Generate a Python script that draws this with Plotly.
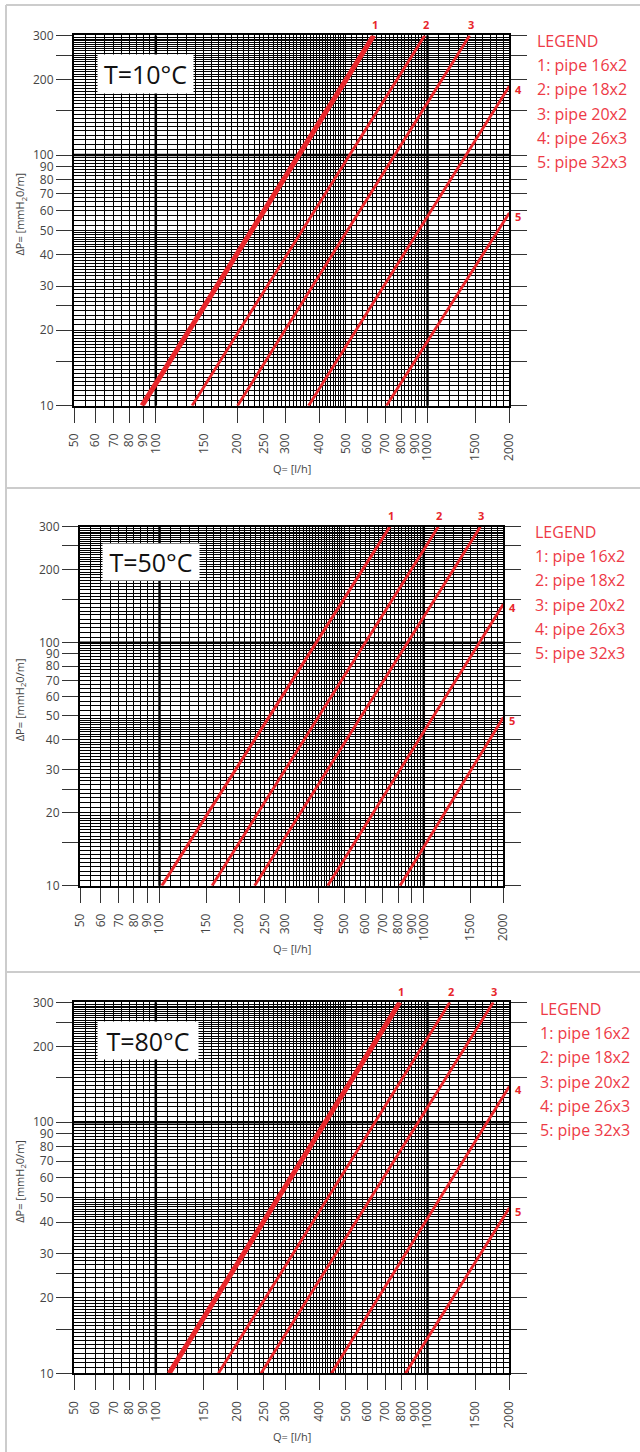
import numpy as np
import plotly.graph_objects as go

# ---------------- data ----------------
temperatures = ["T=10°C", "T=50°C", "T=80°C"]
pipe_ids = ["1", "2", "3", "4", "5"]
legend_labels = ["1: pipe 16x2", "2: pipe 18x2", "3: pipe 20x2", "4: pipe 26x3", "5: pipe 32x3"]

# flow Q [l/h] and pressure drop dP [mmH2O/m] at the two ends of each straight (log-log) line
t10_q_start = [89, 136, 200, 365, 706]
t10_dp_start = [10, 10, 10, 10, 10]
t10_q_end = [634, 977, 1429, 2000, 2000]
t10_dp_end = [300, 300, 300, 188, 58.7]

t50_q_start = [102, 158, 229, 433, 813]
t50_dp_start = [10, 10, 10, 10, 10]
t50_q_end = [744, 1135, 1638, 2000, 2000]
t50_dp_end = [300, 300, 300, 144, 49.3]

t80_q_start = [112, 170, 244, 443, 830]
t80_dp_start = [10, 10, 10, 10, 10]
t80_q_end = [791, 1208, 1746, 2000, 2000]
t80_dp_end = [300, 300, 300, 138.7, 45.5]

x_tick_vals = [50, 60, 70, 80, 90, 100, 150, 200, 250, 300, 400, 500, 600, 700, 800, 900, 1000, 1500, 2000]
x_tick_text = ["50", "60", "70", "80", "90", "100", "150", "200", "250", "300", "400", "500",
               "600", "700", "800", "900", "1000", "1500", "2000"]
y_tick_vals = [10, 15, 20, 25, 30, 40, 50, 60, 70, 80, 90, 100, 150, 200, 250, 300]
y_tick_text = ["10", "", "20", "", "30", "40", "50", "60", "70", "80", "90", "100", "", "200", "", "300"]

# ---------------- styling / layout ----------------
W, H = 640, 1452
def px(x): return x / W
def py(y): return 1 - y / H

RED = "#e8262b"
LEG_RED = "#ee3a46"
FONT = "Open Sans"

grid_x = np.concatenate([np.arange(50, 100, 5), np.arange(100, 200, 10), np.arange(200, 500, 10),
                         np.arange(500, 1000, 25), np.arange(1000, 2001, 100)]).tolist()
grid_y = np.concatenate([np.arange(10, 20, 0.5), np.arange(20, 50, 1), np.arange(50, 100, 2.5),
                         np.arange(100, 300.1, 5)]).tolist()
thick_x = [100, 1000]
thick_y = [100]

panels = [
    dict(title=temperatures[0], qs=t10_q_start, ds=t10_dp_start, qe=t10_q_end, de=t10_dp_end,
         x0=74, x1=509.3, yt=35.4, yb=405.7, box=(98, 193, 55, 93), leg=(535, 41), w1=5),
    dict(title=temperatures[1], qs=t50_q_start, ds=t50_dp_start, qe=t50_q_end, de=t50_dp_end,
         x0=80, x1=503.3, yt=526.7, yb=885.8, box=(103, 199, 544, 580), leg=(533, 532), w1=3),
    dict(title=temperatures[2], qs=t80_q_start, ds=t80_dp_start, qe=t80_q_end, de=t80_dp_end,
         x0=74, x1=509.3, yt=1002.3, yb=1373.3, box=(98, 198, 1022, 1059), leg=(538, 1009), w1=5),
]

fig = go.Figure()
layout = dict(width=W, height=H, margin=dict(l=0, r=0, t=0, b=0, autoexpand=False),
              paper_bgcolor="white", plot_bgcolor="white", showlegend=False,
              font=dict(family=FONT, color="#333"))
annotations = []
shapes = []

xr = [np.log10(50), np.log10(2000)]
yr = [np.log10(10), np.log10(300)]

for i, p in enumerate(panels):
    n = i + 1
    xk, yk = ("xaxis", "yaxis") if n == 1 else (f"xaxis{n}", f"yaxis{n}")
    xref, yref = ("x", "y") if n == 1 else (f"x{n}", f"y{n}")

    layout[xk] = dict(type="log", range=xr, domain=[px(p["x0"]), px(p["x1"])], anchor=yref,
                      automargin=False, zeroline=False, fixedrange=True,
                      showline=True, mirror=True, linecolor="#000", linewidth=2,
                      showgrid=True, gridcolor="#000", gridwidth=1,
                      tickmode="array", tickvals=x_tick_vals, ticktext=x_tick_text,
                      ticks="outside", ticklen=15, tickwidth=1, tickcolor="#333",
                      tickangle=-90, ticklabelstandoff=6,
                      tickfont=dict(size=12, color="#444", family=FONT),
                      minor=dict(tickmode="array", tickvals=grid_x, showgrid=True,
                                 gridcolor="#000", gridwidth=1, ticks=""))
    layout[yk] = dict(type="log", range=yr, domain=[py(p["yb"]), py(p["yt"])], anchor=xref,
                      automargin=False, zeroline=False, fixedrange=True,
                      showline=True, mirror="ticks", linecolor="#000", linewidth=2,
                      showgrid=True, gridcolor="#000", gridwidth=1,
                      tickmode="array", tickvals=y_tick_vals, ticktext=y_tick_text,
                      ticks="outside", ticklen=16, tickwidth=1, tickcolor="#333",
                      tickfont=dict(size=12, color="#444", family=FONT),
                      minor=dict(tickmode="array", tickvals=grid_y, showgrid=True,
                                 gridcolor="#000", gridwidth=1, ticks=""))

    # heavier grid lines at decades
    for v in thick_x:
        shapes.append(dict(type="line", xref=xref, yref="paper", x0=v, x1=v,
                           y0=py(p["yb"]), y1=py(p["yt"]),
                           layer="below", line=dict(color="#000", width=2.5)))
    for v in thick_y:
        shapes.append(dict(type="line", xref="paper", yref=yref, x0=px(p["x0"]), x1=px(p["x1"]),
                           y0=v, y1=v, layer="below", line=dict(color="#000", width=2.5)))

    # pipe lines
    for k in range(len(pipe_ids)):
        fig.add_trace(go.Scatter(x=[p["qs"][k], p["qe"][k]], y=[p["ds"][k], p["de"][k]],
                                 mode="lines", xaxis=xref, yaxis=yref, hoverinfo="skip",
                                 line=dict(color=RED, width=p["w1"] if k == 0 else 2.8)))
        top = p["de"][k] >= 300
        annotations.append(dict(x=np.log10(p["qe"][k]), y=np.log10(p["de"][k]), xref=xref, yref=yref,
                                text=f"<b>{pipe_ids[k]}</b>", showarrow=False,
                                xshift=1 if top else 9, yshift=11 if top else -3,
                                font=dict(size=11, color=RED, family=FONT)))

    # temperature box
    bx0, bx1, by0, by1 = p["box"]
    annotations.append(dict(x=px((bx0 + bx1) / 2), y=py((by0 + by1) / 2), xref="paper", yref="paper",
                            text=p["title"], showarrow=False, xanchor="center", yanchor="middle",
                            bgcolor="white", width=bx1 - bx0, height=by1 - by0, borderpad=0,
                            font=dict(size=25, color="#111", family=FONT)))
    # legend
    lx, ly = p["leg"]
    annotations.append(dict(x=px(lx), y=py(ly), xref="paper", yref="paper", text="LEGEND",
                            showarrow=False, xanchor="left", yanchor="middle",
                            font=dict(size=16, color=LEG_RED, family=FONT)))
    for k, lab in enumerate(legend_labels):
        annotations.append(dict(x=px(lx), y=py(ly + 24.2 * (k + 1)), xref="paper", yref="paper",
                                text=lab, showarrow=False, xanchor="left", yanchor="middle",
                                font=dict(size=16, color=LEG_RED, family=FONT)))
    # axis titles
    annotations.append(dict(x=px((p["x0"] + p["x1"]) / 2), y=py(p["yb"] + 63), xref="paper", yref="paper",
                            text="Q= [l/h]", showarrow=False, xanchor="center", yanchor="middle",
                            font=dict(size=11, color="#444", family=FONT)))
    annotations.append(dict(x=px(20), y=py((p["yt"] + p["yb"]) / 2 - 6), xref="paper", yref="paper",
                            text="ΔP= [mmH<sub>2</sub>0/m]", showarrow=False, textangle=-90,
                            xanchor="center", yanchor="middle",
                            font=dict(size=11, color="#444", family=FONT)))

# panel separators
SEP = "#cccccc"
for yy in [5, 488, 972]:
    shapes.append(dict(type="line", xref="paper", yref="paper", x0=px(6), x1=1, y0=py(yy), y1=py(yy),
                       line=dict(color=SEP, width=2)))
shapes.append(dict(type="line", xref="paper", yref="paper", x0=px(6), x1=px(6), y0=py(5), y1=0,
                   line=dict(color=SEP, width=2)))

layout["annotations"] = annotations
layout["shapes"] = shapes
fig.update_layout(**layout)
fig.write_html("out.html", config={"displayModeBar": False, "staticPlot": True},
               post_script="document.body.style.margin='0';document.body.style.overflow='hidden';")
